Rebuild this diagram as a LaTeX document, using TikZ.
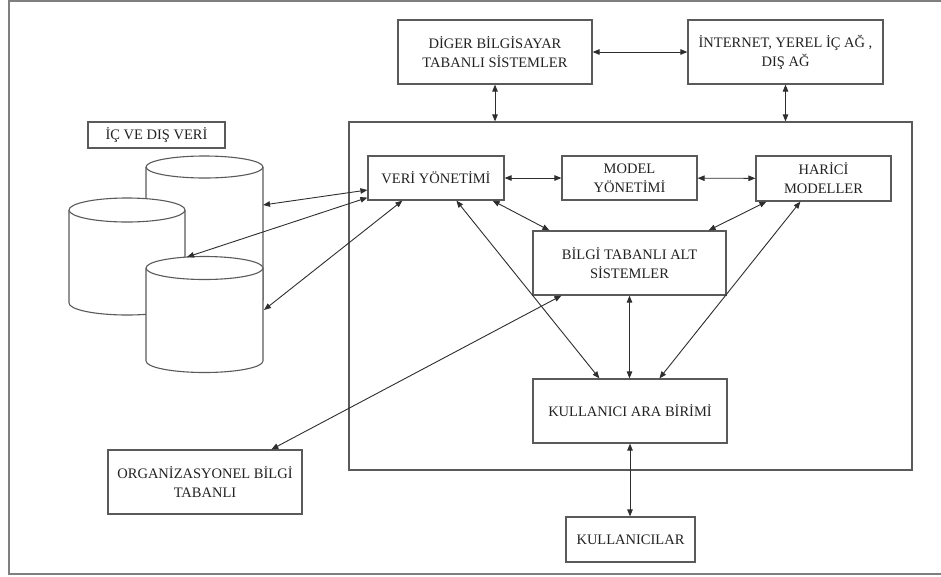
\documentclass[tikz,border=0pt]{standalone}
\usepackage{fontspec}
\setmainfont{Liberation Serif}
\usetikzlibrary{arrows.meta,calc}
\definecolor{boxgray}{HTML}{5A5A5A}
\definecolor{linedark}{HTML}{2E2E2E}
\definecolor{textdark}{HTML}{222222}
\definecolor{framegray}{HTML}{7F7F7F}

% one data drum: left x, right x, top-centre y, bottom-centre y, x radius, y radius
\newcommand{\datadrum}[6]{%
  \filldraw[cyl] (#1,#4) arc[start angle=180, end angle=360, x radius=#5pt, y radius=#6pt]
    -- (#2,#3) arc[start angle=0, end angle=180, x radius=#5pt, y radius=#6pt] -- cycle;
  \draw[cyl] (#1,#3) arc[start angle=180, end angle=360, x radius=#5pt, y radius=#6pt];
}

\begin{document}
\begin{tikzpicture}[x=1pt,y=-1pt,
  box/.style={draw=boxgray, line width=1.2pt, fill=white, rectangle, inner sep=0pt,
    align=center, text=textdark, font=\fontsize{14.5}{19}\selectfont},
  link/.style={draw=linedark, line width=0.9pt,
    {Triangle[length=7pt,width=5.5pt]}-{Triangle[length=7pt,width=5.5pt]}},
  cyl/.style={draw=boxgray, line width=1.1pt, fill=white},
  frame/.style={draw=framegray, line width=2pt},
]
\useasboundingbox (0,0) rectangle (941,576);

% outer frame
\draw[frame] (941,1) -- (9,1) -- (9,574) -- (941,574);

% system boundary
\node[box, minimum width=563pt, minimum height=348pt] (big) at (630.5,296) {};

% external systems on top
\node[box, minimum width=194pt, minimum height=64pt] (digr) at (495,52)
  {DİGER BİLGİSAYAR\\TABANLI SİSTEMLER};
\node[box, minimum width=195pt, minimum height=64pt] (inet) at (785.5,52)
  {İNTERNET, YEREL İÇ AĞ ,\\DIŞ AĞ};

% data store
\node[box, minimum width=137pt, minimum height=26pt] (icdis) at (156.5,135) {İÇ VE DIŞ VERİ};
\datadrum{146}{263}{167}{300}{58.5}{11}
\datadrum{69}{185}{210}{303}{58}{12}
\datadrum{146}{263}{268}{361}{58.5}{11.5}
\coordinate (backR) at (263,205);
\coordinate (frontTop) at (187,257);
\coordinate (frontR) at (264,310);

% inner subsystems
\node[box, minimum width=136pt, minimum height=44pt] (veri) at (436,178) {VERİ YÖNETİMİ};
\node[box, minimum width=135pt, minimum height=44pt] (model) at (629.5,178) {MODEL\\YÖNETİMİ};
\node[box, minimum width=135pt, minimum height=45pt] (haric) at (823.5,178.5) {HARİCİ\\MODELLER};
\node[box, minimum width=193pt, minimum height=64pt] (bilgi) at (629.5,263) {BİLGİ TABANLI ALT\\SİSTEMLER};
\node[box, minimum width=194pt, minimum height=64pt] (kara) at (630,411) {KULLANICI ARA BİRİMİ};

% outside the boundary
\node[box, minimum width=194pt, minimum height=64pt] (org) at (205,482) {ORGANİZASYONEL BİLGİ\\TABANLI};
\node[box, minimum width=129pt, minimum height=45pt] (kull) at (630.5,539.5) {KULLANICILAR};

% connectors
\draw[link] (digr) -- (inet);
\draw[link] (digr.south) -- (digr.south |- big.north);
\draw[link] (inet.south) -- (inet.south |- big.north);
\draw[link] (veri) -- (model);
\draw[link] (model) -- (haric);
\draw[link] ($(veri.south east)+(-12,0)$) -- ($(bilgi.north west)+(17,0)$);
\draw[link] ($(haric.south west)+(11,0)$) -- ($(bilgi.north east)+(-18,0)$);
\draw[link] ($(kara.north west)+(67,0)$) -- ($(veri.south west)+(89,0)$);
\draw[link] (bilgi.south) -- (bilgi.south |- kara.north);
\draw[link] ($(kara.north west)+(127,0)$) -- ($(haric.south west)+(45,0)$);
\draw[link] ($(org.north west)+(164,0)$) -- ($(bilgi.south west)+(29,0)$);
\draw[link] (kara.south) -- (kara.south |- kull.north);
\draw[link] (backR) -- ($(veri.west)+(0,12)$);
\draw[link] (frontTop) -- ($(veri.south west)+(0,-3)$);
\draw[link] (frontR) -- ($(veri.south west)+(35,0)$);
\end{tikzpicture}
\end{document}
